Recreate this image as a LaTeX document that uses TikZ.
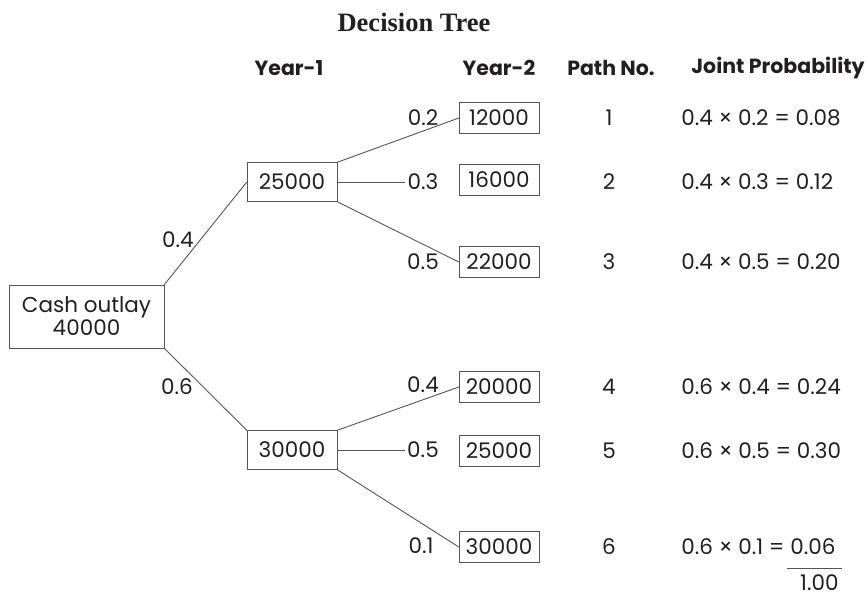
\documentclass[tikz,border=0pt]{standalone}
\usepackage{fontspec}
\setmainfont{Poppins}
\newfontfamily\titlefont{Liberation Serif}
\definecolor{linegray}{HTML}{555555}
\definecolor{inkgray}{HTML}{231F20}
\newcommand{\bodysize}{\fontsize{21.5}{25}\selectfont}
\tikzset{
  head/.style={font=\bfseries\fontsize{20.5}{24}\selectfont},
  valbox/.style={draw=linegray,rectangle,inner sep=0pt,
    minimum width=80pt,minimum height=31pt},
  yearbox/.style={valbox,minimum width=90pt,minimum height=39pt},
  rootbox/.style={valbox,minimum width=155pt,minimum height=63pt,align=center},
  prob/.style={inner sep=2pt},
  joint/.style={anchor=west},
  branch/.style={draw=linegray,line width=0.9pt}
}

\begin{document}
\begin{tikzpicture}[x=1pt,y=-1pt,inkgray]
  \useasboundingbox (0,0) rectangle (868,598);
  \bodysize

  % Headings {{{
  \node[font=\titlefont\bfseries\fontsize{26.5}{30}\selectfont] (title) at (414,22) {Decision Tree};
  \node[head] (hyear1) at (289,68) {Year-1};
  \node[head] (hyear2) at (499,68) {Year-2};
  \node[head] (hpath) at (611,68) {Path No.};
  \node[head] (hjoint) at (778,68) {Joint Probability};
  % }}}

  % Tree {{{
  \node[rootbox] (root) at (86.5,316.5) {Cash outlay\\[-2pt]40000};
  \node[yearbox] (a) at (292,182) {25000};
  \node[yearbox] (b) at (292,450) {30000};

  \node[valbox] (a1) at (499,118) {12000};
  \node[valbox] (a2) at (499,180) {16000};
  \node[valbox] (a3) at (499,262) {22000};
  \node[valbox] (b1) at (499,387) {20000};
  \node[valbox] (b2) at (499,451) {25000};
  \node[valbox] (b3) at (499,547) {30000};

  \node[prob] (pa) at (178,240) {0.4};
  \node[prob] (pb) at (177,387) {0.6};
  \node[prob] (pa1) at (423,118) {0.2};
  \node[prob] (pa2) at (423,182) {0.3};
  \node[prob] (pa3) at (423,262) {0.5};
  \node[prob] (pb1) at (423,385) {0.4};
  \node[prob] (pb2) at (423,450) {0.5};
  \node[prob] (pb3) at (421,546) {0.1};

  \draw[branch] (root.north east) -- (a.west);
  \draw[branch] (root.south east) -- (b.north west);
  \draw[branch] (a.north east) -- (a1.west);
  \draw[branch] (a.east) -- (pa2.west);
  \draw[branch] (a.south east) -- (a3.west);
  \draw[branch] (b.north east) -- (b1.west);
  \draw[branch] (b.east) -- (pb2.west);
  \draw[branch] (b.south east) -- (b3.west);
  % }}}

  % Paths {{{
  \foreach \n/\y in {1/118,2/182,3/262,4/387,5/451,6/547}
    \node (path\n) at (609,\y) {\n};

  \node[joint] (j1) at (674,118) {0.4 × 0.2 = 0.08};
  \node[joint] (j2) at (674,182) {0.4 × 0.3 = 0.12};
  \node[joint] (j3) at (674,262) {0.4 × 0.5 = 0.20};
  \node[joint] (j4) at (674,387) {0.6 × 0.4 = 0.24};
  \node[joint] (j5) at (674,451) {0.6 × 0.5 = 0.30};
  \node[joint] (j6) at (674,547) {0.6 × 0.1 = 0.06};
  \node[anchor=east] (total) at (846,583) {1.00};
  \coordinate (ruleL) at (787,568);
  \coordinate (ruleR) at (842,568);
  \draw[linegray,line width=0.9pt] (ruleL) -- (ruleR);
  % }}}
\end{tikzpicture}
\end{document}
